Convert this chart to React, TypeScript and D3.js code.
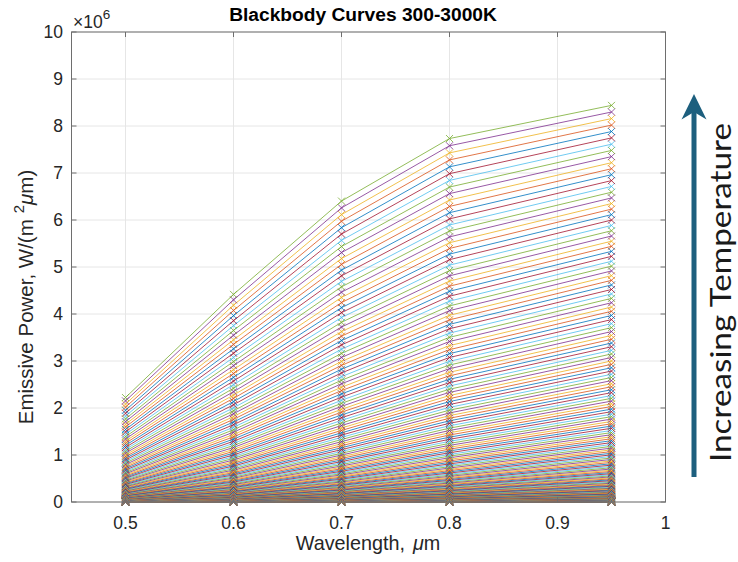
import React, { useEffect, useRef } from 'react'
import * as d3 from 'd3'

// wavelengths sampled (μm) and curve temperatures (K)
const wavelengths = [0.5, 0.6, 0.7, 0.8, 0.95]
const temperatures = d3.range(300, 3001, 10)

const xTicks = [0.5, 0.6, 0.7, 0.8, 0.9, 1]
const xTickLabels = ['0.5', '0.6', '0.7', '0.8', '0.9', '1']
const yTicks = [0, 1, 2, 3, 4, 5, 6, 7, 8, 9, 10]

const matlabColors = ['#0072BD', '#D95319', '#EDB120', '#7E2F8E', '#77AC30', '#4DBEEE', '#A2142F']

// blackbody constants used by the original script (its exp(x - 1) form is kept)
const C1 = 3.742e8
const C2 = 1.4388e4
const emissivePower = (lam: number, T: number) => C1 / (Math.pow(lam, 5) * Math.exp(C2 / (lam * T) - 1))

const curves = temperatures.map(T => wavelengths.map(lam => ({ lam, e: emissivePower(lam, T) })))

const W = 738
const H = 562
const FONT = '"Liberation Sans", Arial, Helvetica, sans-serif'

const App = () => {
    const ref = useRef<SVGSVGElement>(null)

    useEffect(() => {
        const svg = d3.select(ref.current)
        svg.selectAll('*').remove()

        const left = 71.5, right = 665.5, top = 32, bottom = 502

        const x = d3.scaleLinear().domain([0.45, 1]).range([left, right])
        const y = d3.scaleLinear().domain([0, 10e6]).range([bottom, top])

        svg.append('rect').attr('width', W).attr('height', H).attr('fill', '#fff')

        const g = svg.append('g')

        // grid
        g.selectAll('.gx')
            .data(xTicks)
            .join('line')
            .attr('x1', d => x(d)).attr('x2', d => x(d))
            .attr('y1', top).attr('y2', bottom)
            .attr('stroke', '#e6e6e6')
            .attr('stroke-width', 1)

        g.selectAll('.gy')
            .data(yTicks)
            .join('line')
            .attr('x1', left).attr('x2', right)
            .attr('y1', d => y(d * 1e6)).attr('y2', d => y(d * 1e6))
            .attr('stroke', '#e6e6e6')
            .attr('stroke-width', 1)

        const line = d3.line<{ lam: number, e: number }>()
            .x(d => x(d.lam))
            .y(d => y(d.e))

        const curveG = g.append('g')
        curves.forEach((pts, i) => {
            const color = matlabColors[i % matlabColors.length]
            curveG.append('path')
                .attr('d', line(pts))
                .attr('fill', 'none')
                .attr('stroke', color)
                .attr('stroke-width', 0.8)
            curveG.selectAll(null)
                .data(pts)
                .join('path')
                .attr('transform', d => `translate(${x(d.lam)},${y(d.e)})`)
                .attr('d', 'M-3.5,-3.5L3.5,3.5M-3.5,3.5L3.5,-3.5')
                .attr('stroke', color)
                .attr('stroke-width', 0.8)
                .attr('fill', 'none')
        })

        // box + ticks
        g.append('rect')
            .attr('x', left).attr('y', top)
            .attr('width', right - left).attr('height', bottom - top)
            .attr('fill', 'none')
            .attr('stroke', '#6e6e6e')
            .attr('stroke-width', 1)

        g.selectAll('.tx')
            .data(xTicks)
            .join('path')
            .attr('d', d => `M${x(d)},${bottom}V${bottom - 5}M${x(d)},${top}V${top + 5}`)
            .attr('stroke', '#6e6e6e')

        g.selectAll('.ty')
            .data(yTicks)
            .join('path')
            .attr('d', d => `M${left},${y(d * 1e6)}H${left + 5}M${right},${y(d * 1e6)}H${right - 5}`)
            .attr('stroke', '#6e6e6e')

        g.selectAll('.lx')
            .data(xTicks)
            .join('text')
            .attr('x', d => x(d))
            .attr('y', 529)
            .attr('text-anchor', 'middle')
            .attr('font-family', FONT)
            .attr('font-size', 17.5)
            .attr('fill', '#262626')
            .text((d, i) => xTickLabels[i])

        g.selectAll('.ly')
            .data(yTicks)
            .join('text')
            .attr('x', 63)
            .attr('y', d => y(d * 1e6))
            .attr('dy', '0.36em')
            .attr('text-anchor', 'end')
            .attr('font-family', FONT)
            .attr('font-size', 17.5)
            .attr('fill', '#262626')
            .text(d => String(d))

        const expo = g.append('text')
            .attr('x', 73)
            .attr('y', 28)
            .attr('font-family', FONT)
            .attr('font-size', 17.5)
            .attr('fill', '#262626')
        expo.append('tspan').text('\u00d710')
        expo.append('tspan').attr('dy', -9).attr('font-size', 13.5).text('6')

        g.append('text')
            .attr('x', 363)
            .attr('y', 21)
            .attr('text-anchor', 'middle')
            .attr('font-family', FONT)
            .attr('font-size', 19.2)
            .attr('font-weight', 'bold')
            .attr('fill', '#000')
            .text('Blackbody Curves 300-3000K')

        const xl = g.append('text')
            .attr('x', 368)
            .attr('y', 550)
            .attr('text-anchor', 'middle')
            .attr('font-family', FONT)
            .attr('font-size', 19.8)
            .attr('fill', '#262626')
        xl.append('tspan').text('Wavelength,')
        xl.append('tspan').attr('dx', 8).attr('font-style', 'italic').text('\u03bc')
        xl.append('tspan').text('m')

        const yl = g.append('text')
            .attr('transform', 'translate(33,297) rotate(-90)')
            .attr('text-anchor', 'middle')
            .attr('font-family', FONT)
            .attr('font-size', 20.5)
            .attr('fill', '#262626')
        yl.append('tspan').text('Emissive Power, W/(m')
        yl.append('tspan').attr('dx', 6).attr('dy', -9).attr('font-size', 15).text('2')
        yl.append('tspan').attr('dy', 9).attr('font-style', 'italic').text('\u03bc')
        yl.append('tspan').text('m)')

        // annotation arrow
        const arrowColor = '#1d5f7e'
        g.append('rect')
            .attr('x', 691.5).attr('y', 110)
            .attr('width', 5).attr('height', 367)
            .attr('fill', arrowColor)
        g.append('path')
            .attr('d', 'M694,94L706.5,119.5L694,112L681.5,119.5Z')
            .attr('fill', arrowColor)

        g.append('text')
            .attr('transform', 'translate(731,292.5) rotate(-90)')
            .attr('text-anchor', 'middle')
            .attr('font-family', 'Lato, "Open Sans", sans-serif')
            .attr('font-size', 28)
            .attr('textLength', 339)
            .attr('lengthAdjust', 'spacingAndGlyphs')
            .attr('fill', '#1a1a1a')
            .text('Increasing Temperature')
    }, [])

    return (
        <svg ref={ref} width={W} height={H} viewBox={`0 0 ${W} ${H}`}
            style={{ position: 'absolute', left: 0, top: 0, display: 'block' }} />
    )
}

export default App
